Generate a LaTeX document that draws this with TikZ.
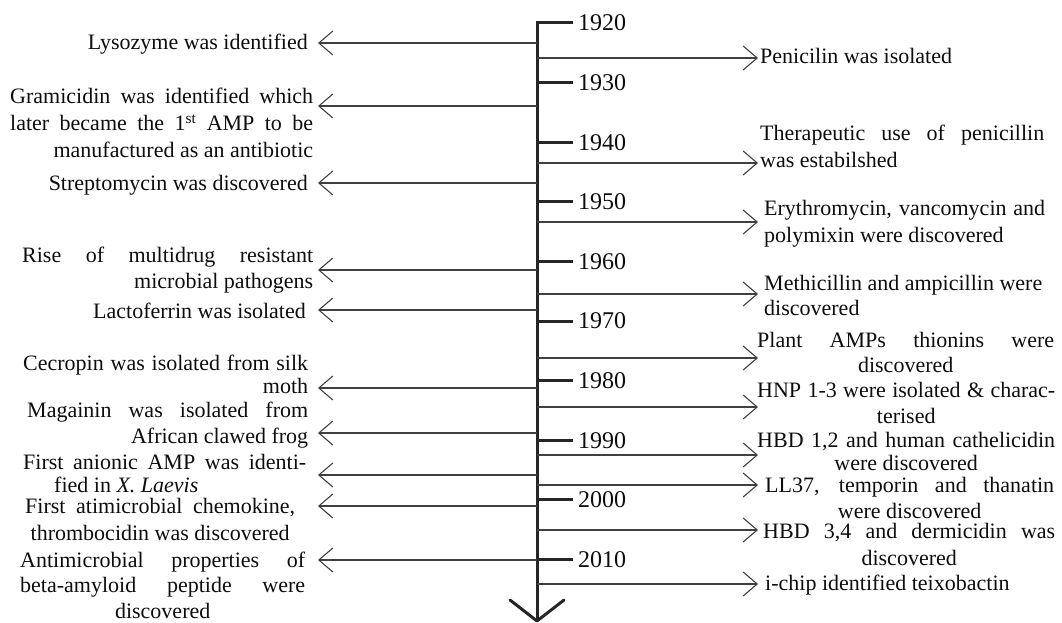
\documentclass[tikz,border=0pt]{standalone}
\usepackage{fontspec}
\setmainfont{Liberation Serif}
\usetikzlibrary{arrows.meta}
\newcommand\lnJ[1]{\makebox[\linewidth][s]{#1}\par}
\newcommand\lnR[1]{\makebox[\linewidth][r]{#1}\par}
\newcommand\lnC[1]{\makebox[\linewidth][c]{#1}\par}
\newcommand\lnL[1]{\makebox[\linewidth][l]{#1}\par}
\newcommand\evblock[3]{\parbox[t]{#1pt}{\fontsize{22pt}{#2pt}\selectfont\parindent0pt\parskip0pt\relax #3}}
\tikzset{
  evtext/.style={inner sep=0pt, text=black!95, font=\fontsize{22pt}{26pt}\selectfont},
  yearlbl/.style={inner sep=0pt, anchor=west, text=black!95, font=\fontsize{24pt}{28pt}\selectfont},
  axisline/.style={draw=black!85, line width=3pt},
  yeartickline/.style={draw=black!85, line width=3pt},
  evarrow/.style={draw=black!75, line width=1.1pt, -{Straight Barb[length=14pt,width=24pt,line width=1.1pt]}}
}
\begin{document}
\begin{tikzpicture}[x=1pt,y=-1pt]
\useasboundingbox (0,0) rectangle (1062,623);
% axis
\coordinate (axtop) at (537,23);
\coordinate (axend) at (537,621);
\coordinate (vL) at (510,600);
\coordinate (vR) at (564,600);
\coordinate (tk1920) at (573,23);
\node[yearlbl] (y1920) at (578,23) {1920};
\draw[axisline, line join=miter] (tk1920) -- (axtop) -- (axend);
\draw[axisline, line join=round, line cap=round] (vL) -- (axend) -- (vR);
\foreach \i/\yr in {1/1930,2/1940,3/1950,4/1960,5/1970,6/1980,7/1990,8/2000,9/2010}{
  \coordinate (ax\yr) at (537,{23+59.6*\i});
  \node[yearlbl] (y\yr) at (578,{23+59.6*\i}) {\yr};
  \draw[yeartickline] (ax\yr) -- ([xshift=-5pt]y\yr.west);
}
% left events
\node[evtext, anchor=base east] (eL1) at (308,50) {Lysozyme was identified};
\node[evtext, anchor=base west] (eL2) at (10,104) {\evblock{303}{27}{\lnJ{Gramicidin was identified which}\lnJ{later became the 1\textsuperscript{st} AMP to be}\lnR{manufactured as an antibiotic}}};
\node[evtext, anchor=base east] (eL3) at (308,190) {Streptomycin was discovered};
\node[evtext, anchor=base west] (eL4) at (22,262) {\evblock{291}{26}{\lnJ{Rise of multidrug resistant}\lnR{microbial pathogens}}};
\node[evtext, anchor=base east] (eL5) at (306,318) {Lactoferrin was isolated};
\node[evtext, anchor=base west] (eL6) at (23,370) {\evblock{285}{23}{\lnJ{Cecropin was isolated from silk}\lnR{moth}}};
\node[evtext, anchor=base west] (eL7) at (27,417) {\evblock{281}{26}{\lnJ{Magainin was isolated from}\lnR{African clawed frog}}};
\node[evtext, anchor=base west] (eL8) at (23,469) {\evblock{283}{23}{\lnJ{First anionic AMP was identi-}\lnL{\hspace*{31pt}fied in \textit{X. Laevis}}}};
\node[evtext, anchor=base west] (eL9) at (25,513) {\evblock{270}{27}{\lnJ{First atimicrobial chemokine,}\lnC{thrombocidin was discovered}}};
\node[evtext, anchor=base west] (eL10) at (20,567) {\evblock{285}{25.5}{\lnJ{Antimicrobial properties of}\lnJ{beta-amyloid peptide were}\lnC{discovered}}};
% right events
\node[evtext, anchor=base west] (eR1) at (760,64) {Penicilin was isolated};
\node[evtext, anchor=base west] (eR2) at (760,140) {\evblock{284}{27}{\lnJ{Therapeutic use of penicillin}\lnL{was estabilshed}}};
\node[evtext, anchor=base west] (eR3) at (764,215) {\evblock{281}{27}{\lnJ{Erythromycin, vancomycin and}\lnL{polymixin were discovered}}};
\node[evtext, anchor=base west] (eR4) at (764,290) {\evblock{278}{25}{\lnJ{Methicillin and ampicillin were}\lnL{discovered}}};
\node[evtext, anchor=base west] (eR5) at (757,347) {\evblock{297}{25}{\lnJ{Plant AMPs thionins were}\lnC{discovered}}};
\node[evtext, anchor=base west] (eR6) at (757,397) {\evblock{298}{26}{\lnJ{HNP 1-3 were isolated \& charac-}\lnC{terised}}};
\node[evtext, anchor=base west] (eR7) at (757,447) {\evblock{298}{23}{\lnJ{HBD 1,2 and human cathelicidin}\lnC{were discovered}}};
\node[evtext, anchor=base west] (eR8) at (765,492) {\evblock{289}{26}{\lnJ{LL37, temporin and thanatin}\lnC{were discovered}}};
\node[evtext, anchor=base west] (eR9) at (763,538) {\evblock{292}{27}{\lnJ{HBD 3,4 and dermicidin was}\lnC{discovered}}};
\node[evtext, anchor=base west] (eR10) at (765,590) {i-chip identified teixobactin};
% left arrows
\foreach \n/\yy in {1/43,2/106,3/183,4/270,5/310,6/388,7/433,8/475,9/506,10/560}{
  \coordinate (aL\n) at (537,\yy);
  \coordinate (tL\n) at (318,\yy);
  \draw[evarrow] (aL\n) -- (tL\n);
}
% right arrows
\foreach \n/\yy in {1/58,2/163,3/222,4/294,5/358,6/407,7/455,8/485,9/530,10/584}{
  \coordinate (aR\n) at (537,\yy);
  \coordinate (tR\n) at (758,\yy);
  \draw[evarrow] (aR\n) -- (tR\n);
}
\end{tikzpicture}
\end{document}
